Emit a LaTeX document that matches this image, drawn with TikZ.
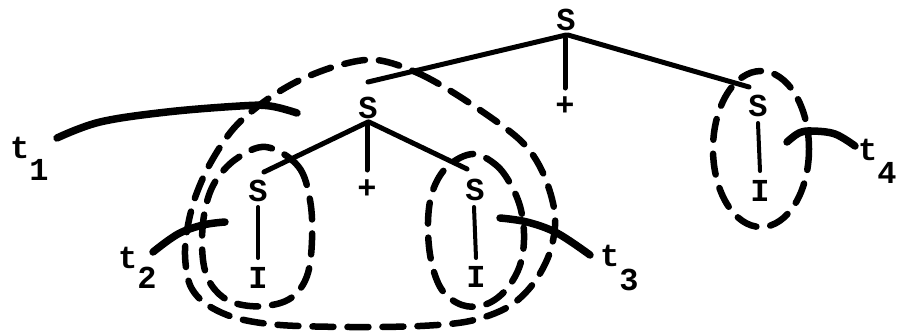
\documentclass[tikz,border=0pt]{standalone}
\usepackage{fontspec}
\newfontfamily\twfont{Liberation Mono}
\usetikzlibrary{calc}
\tikzset{
  sym/.style={font=\twfont\bfseries\fontsize{32}{32}\selectfont, inner sep=0pt},
  tlab/.style={font=\twfont\bfseries\fontsize{32}{32}\selectfont, inner sep=0pt, anchor=base west},
  branch/.style={line width=5pt, line cap=round},
  stem/.style={line width=4pt, line cap=round},
  loop/.style={line width=6.5pt, line cap=round, dash pattern=on 21pt off 14pt},
  tline/.style={line width=7.5pt, line cap=round}
}
\begin{document}
\begin{tikzpicture}[x=1pt,y=-1pt]
\path[use as bounding box] (0,0) rectangle (897,335);

% tree symbols
\node[sym] (Stop) at (566,20) {S};
\node[sym] (Ptop) at (565,106) {+};
\node[sym] (Smid) at (368,108) {S};
\node[sym] (Pmid) at (367,189) {+};
\node[sym] (Sll) at (258,191) {S};
\node[sym] (Ill) at (258,278) {I};
\node[sym] (Slr) at (475,190) {S};
\node[sym] (Ilr) at (476,277) {I};
\node[sym] (Sr) at (758,106) {S};
\node[sym] (Ir) at (760,191) {I};

% labels
\node[tlab] (t1) at (10,158) {t\raisebox{-22pt}{1}};
\node[tlab] (t2) at (118,268) {t\raisebox{-20pt}{2}};
\node[tlab] (t3) at (600,266) {t\raisebox{-24pt}{3}};
\node[tlab] (t4) at (858,160) {t\raisebox{-23pt}{4}};

% tree branches
\draw[branch] ($(Stop)+(0,15)$) -- ($(Smid)+(0,-26)$);
\draw[branch] ($(Stop)+(-1,18)$) -- ($(Ptop)+(0,-18)$);
\draw[branch] ($(Stop)+(2,15)$) -- ($(Sr)+(-9,-19)$);
\draw[branch] ($(Smid)+(0,14)$) -- ($(Sll)+(6,-19)$);
\draw[branch] ($(Smid)+(-1,17)$) -- ($(Pmid)+(0,-19)$);
\draw[branch] ($(Smid)+(1,14)$) -- ($(Slr)+(-8,-21)$);
\draw[stem] ($(Sll)+(0,16)$) -- ($(Ill)+(0,-20)$);
\draw[stem] ($(Slr)+(-1,17)$) -- ($(Ilr)+(0,-19)$);
\draw[stem] ($(Sr)+(0,17)$) -- ($(Ir)+(0,-20)$);

% dashed loops
\draw[loop] plot[smooth cycle, tension=0.6] coordinates {
  (266,147) (298,166) (310,200) (312,240) (307,276) (291,298) (265,306)
  (238,304) (219,294) (206,274) (202,244) (205,210) (215,182) (236,159)};
\draw[loop] plot[smooth cycle, tension=0.6] coordinates {
  (473,154) (496,165) (511,185) (521,210) (524,240) (519,268) (504,292)
  (484,305) (462,305) (442,290) (431,260) (428,222) (433,190) (448,166)};
\draw[loop] plot[smooth cycle, tension=0.55] coordinates {
  (377,60) (420,74) (468,102) (520,140) (543,173) (555,215) (550,252)
  (533,284) (508,307) (470,321) (420,326) (350,327) (280,325) (236,318)
  (206,304) (190,285) (185,255) (188,225) (196,195) (211,162) (234,128)
  (265,101) (300,80) (340,65)};
\draw[loop] (761,149) ellipse [x radius=48, y radius=78];

% t connectors
\coordinate (t1s) at (57,138);
\coordinate (t2s) at (153,252);
\coordinate (t3s) at (590,255);
\coordinate (t4s) at (855,146);
\draw[tline] plot[smooth, tension=0.6] coordinates {(t1s) (100,122) (167,112) (240,106) (270,106) (297,113)};
\draw[tline] plot[smooth, tension=0.6] coordinates {(t2s) (178,234) (203,225) (225,222)};
\draw[tline] plot[smooth, tension=0.6] coordinates {(t3s) (557,233) (527,222) (500,218)};
\draw[tline] plot[smooth, tension=0.6] coordinates {(t4s) (835,134) (812,131) (799,133) (787,142)};
\end{tikzpicture}
\end{document}
